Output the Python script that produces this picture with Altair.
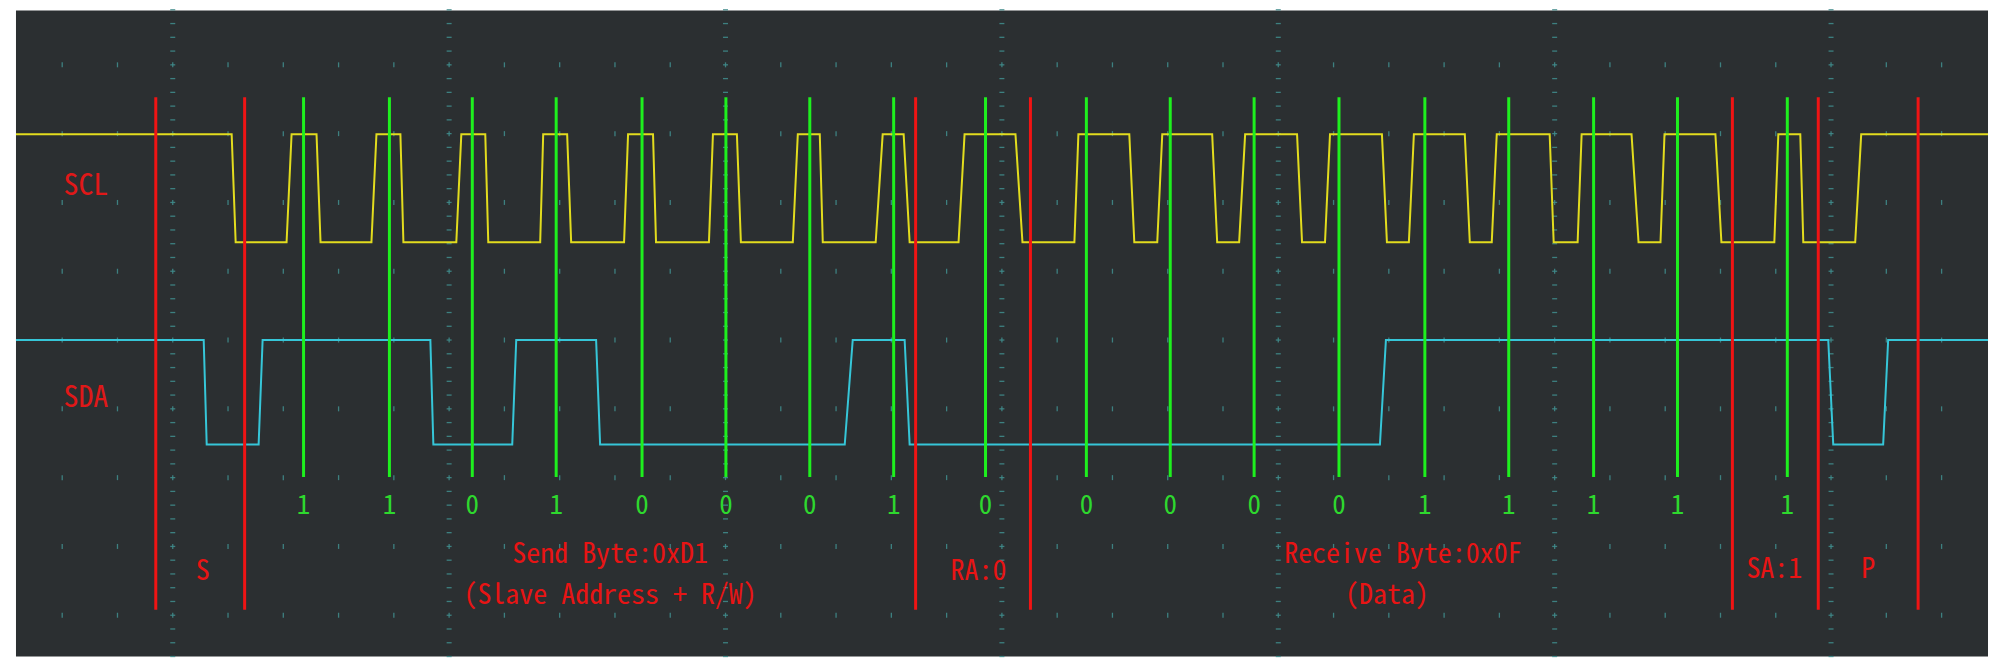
import altair as alt
import pandas as pd
import numpy as np

# ---- data read from the capture -------------------------------------------
# time in capture samples (screen columns), levels in vertical divisions
T_START, T_END = 12, 1987

SCL_HIGH, SCL_LOW = 2.99, 1.42
SDA_HIGH, SDA_LOW = 0.0, -1.52

# (start, end) of every SCL transition, first one is a falling edge
scl_edges = [(228, 232), (283, 288), (313, 317), (368, 373), (397, 400), (453, 458),
             (482, 485), (537, 540), (564, 568), (621, 625), (650, 653), (706, 710),
             (734, 738), (790, 795), (817, 820), (873, 880), (901, 907), (956, 962),
             (1013, 1020), (1072, 1076), (1127, 1132), (1155, 1160), (1210, 1215),
             (1237, 1243), (1295, 1300), (1323, 1328), (1380, 1385), (1407, 1412),
             (1463, 1468), (1490, 1495), (1548, 1552), (1576, 1580), (1630, 1637),
             (1659, 1663), (1714, 1720), (1773, 1777), (1799, 1802), (1854, 1860)]

# (start, end) of every SDA transition, first one is a falling edge
sda_edges = [(200, 203), (255, 259), (427, 430), (509, 513), (593, 597),
             (842, 850), (902, 907), (1378, 1384), (1827, 1832), (1882, 1887)]

bit_times = [300, 386, 469, 553, 639, 723, 807, 891, 983,
             1084, 1168, 1252, 1337, 1423, 1507, 1592, 1676, 1786]
bit_values = ["1", "1", "0", "1", "0", "0", "0", "1", "0",
              "0", "0", "0", "0", "1", "1", "1", "1", "1"]

marker_times = [152, 241, 913, 1028, 1731, 1817, 1917]

label_texts = ["S", "Send Byte:0xD1", "(Slave Address + R/W)", "RA:0",
               "Receive Byte:0x0F", "(Data)", "SA:1", "P"]
label_times = [199, 607, 607, 976, 1401, 1385, 1773, 1867]
label_levels = [-3.37, -3.12, -3.72, -3.37, -3.12, -3.72, -3.35, -3.35]

channel_names = ["SCL", "SDA"]
channel_times = [82, 82]
channel_levels = [2.24, -0.84]

MARK_TOP, RED_BOTTOM, GREEN_BOTTOM = 3.53, -3.92, -1.99
BIT_LEVEL = -2.41

# ---- tables -----------------------------------------------------------------
def trace(edges, hi, lo):
    pts = [(T_START, hi)]
    level = hi
    for a, b in edges:
        pts.append((a, level))
        level = lo if level == hi else hi
        pts.append((b, level))
    pts.append((T_END, level))
    return pd.DataFrame({"t": [p[0] for p in pts], "v": [p[1] for p in pts],
                         "i": list(range(len(pts)))})

scl_df = trace(scl_edges, SCL_HIGH, SCL_LOW)
sda_df = trace(sda_edges, SDA_HIGH, SDA_LOW)

bits_df = pd.DataFrame({"t": bit_times, "bit": bit_values,
                        "top": MARK_TOP, "bottom": GREEN_BOTTOM, "lv": BIT_LEVEL})
red_df = pd.DataFrame({"t": marker_times, "top": MARK_TOP, "bottom": RED_BOTTOM})
lab_df = pd.DataFrame({"t": label_times, "v": label_levels, "txt": label_texts})
ch_df = pd.DataFrame({"t": channel_times, "v": channel_levels, "txt": channel_names})

# oscilloscope graticule
DIV = 276.8
minor_cols = [169 + DIV / 5 * k for k in range(-2, 33)]
major_cols = [169 + DIV * k for k in range(7)]
rows = list(range(-4, 5))
dots_df = pd.DataFrame([(c, r) for c in minor_cols for r in rows], columns=["t", "v"])
dash_levels = [round(-4.6 + 0.2 * k, 2) for k in range(48)]
dash_df = pd.DataFrame([(c, r) for c in major_cols for r in dash_levels], columns=["t", "v"])

# ---- chart ------------------------------------------------------------------
xs = alt.Scale(domain=[T_START, T_END], nice=False, zero=False)
ys = alt.Scale(domain=[-4.60, 4.79], nice=False, zero=False)

def X(f="t"):
    return alt.X(f, type="quantitative", scale=xs, axis=None)

def Y(f="v"):
    return alt.Y(f, type="quantitative", scale=ys, axis=None)

GRID = "#3f8a8a"
FONT = "Noto Sans Mono CJK SC"

dots = alt.Chart(dots_df).mark_tick(orient="vertical", size=5, thickness=1.3,
                                    color=GRID, opacity=0.9).encode(x=X(), y=Y())
dashes = alt.Chart(dash_df).mark_tick(orient="horizontal", size=5, thickness=1.3,
                                      color=GRID, opacity=0.9).encode(x=X(), y=Y())

scl = alt.Chart(scl_df).mark_line(color="#e2dc1e", strokeWidth=2).encode(
    x=X(), y=Y(), order="i:Q")
sda = alt.Chart(sda_df).mark_line(color="#36c6d8", strokeWidth=2).encode(
    x=X(), y=Y(), order="i:Q")

red_rules = alt.Chart(red_df).mark_rule(color="#f01414", strokeWidth=3).encode(
    x=X(), y=Y("top"), y2="bottom")
green_rules = alt.Chart(bits_df).mark_rule(color="#1ef01e", strokeWidth=3).encode(
    x=X(), y=Y("top"), y2="bottom")

bit_text = alt.Chart(bits_df).mark_text(font=FONT, fontSize=27, color="#2ed82e",
                                        align="center", baseline="middle").encode(
    x=X(), y=Y("lv"), text="bit")

labels = alt.Chart(lab_df).mark_text(font=FONT, fontSize=28, color="#e81414",
                                     align="center", baseline="middle").encode(
    x=X(), y=Y(), text="txt")

channels = alt.Chart(ch_df).mark_text(font=FONT, fontSize=30, color="#e01818",
                                      align="center", baseline="middle").encode(
    x=X(), y=Y(), text="txt")

chart = alt.layer(dots, dashes, scl, sda, red_rules, green_rules,
                  bit_text, labels, channels).properties(
    width=1975, height=647,
    padding={"left": 4, "top": 0, "right": 0, "bottom": 0},
).configure_view(fill="#2b2f31", stroke=None)

chart.save("out.html", embed_options={"renderer": "svg", "actions": False})
